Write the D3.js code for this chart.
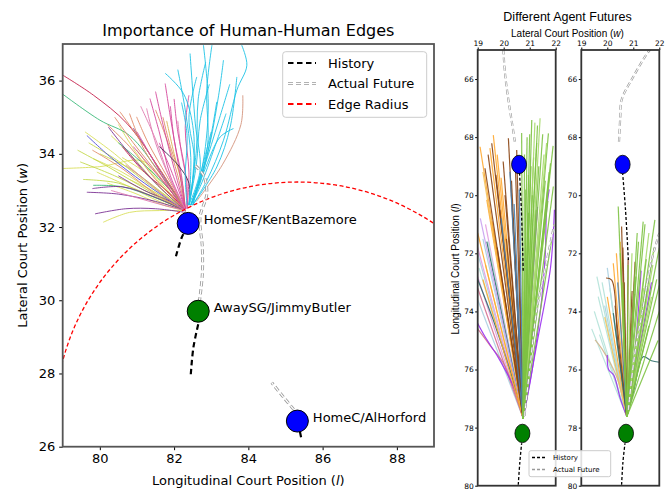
<!DOCTYPE html>
<html>
<head>
<meta charset="utf-8">
<script src="https://d3js.org/d3.v7.min.js"></script>
<style>
body { margin: 0; background: #fff; }
svg { display: block; font-family: "DejaVu Sans", sans-serif; }
</style>
</head>
<body>
<svg width="665" height="491"></svg>
<script>
// ---------- data ----------
const leftXTicks = [80, 82, 84, 86, 88];
const leftYTicks = [26, 28, 30, 32, 34, 36];
const rightXTicks = [19, 20, 21, 22];
const rightYTicks = [66, 68, 70, 72, 74, 76, 78, 80];

const agents = [
  {name: "HomeSF/KentBazemore", team: "home", x: 82.38, y: 32.1},
  {name: "AwaySG/JimmyButler", team: "away", x: 82.65, y: 29.7},
  {name: "HomeC/AlHorford", team: "home", x: 85.32, y: 26.7}
];
const edgeRadius = 6.53; // around AlHorford

const leftHistory = [
  [[82.05, 31.2], [82.2, 31.7], [82.35, 32.0]],
  [[82.45, 27.98], [82.52, 28.71], [82.66, 29.39]],
  [[85.42, 26.26], [85.36, 26.55]]
];
const leftFuture = [
  [[82.68, 29.95], [82.76, 30.7], [82.76, 31.45], [82.7, 32.27], [82.88, 32.9], [82.8, 33.4], [82.55, 33.7]],
  [[85.22, 27.02], [84.95, 27.35], [84.63, 27.75]]
];

// predicted futures of KentBazemore (mode -> colour)
const leftSamples = [
  {m: "yellow", p: [[79.0, 33.6], [80.0, 33.65], [81.16, 33.8], [81.8, 33.1], [82.3, 32.5]]},
  {m: "yellow", p: [[79.6, 34.6], [80.4, 34.0], [81.2, 33.3], [82.3, 32.45]]},
  {m: "yellow", p: [[79.82, 33.87], [80.6, 33.5], [81.4, 33.0], [82.3, 32.45]]},
  {m: "lime", p: [[79.47, 33.78], [80.4, 33.4], [81.4, 32.9], [82.3, 32.45]]},
  {m: "yellow", p: [[79.92, 33.5], [80.8, 33.1], [81.6, 32.7], [82.3, 32.45]]},
  {m: "yellow", p: [[80.09, 32.13], [80.8, 32.4], [81.6, 32.45], [82.3, 32.45]]},
  {m: "lime", p: [[79.7, 34.3], [80.5, 33.8], [81.4, 33.1], [82.3, 32.45]]},
  {m: "yellow", p: [[80.2, 33.2], [81.0, 32.9], [81.7, 32.6], [82.3, 32.45]]},
  {m: "yellow", p: [[80.3, 34.5], [80.9, 33.9], [81.6, 33.1], [82.3, 32.45]]},
  {m: "lime", p: [[79.55, 33.3], [80.5, 33.2], [81.5, 32.8], [82.3, 32.45]]},
  {m: "yellow", p: [[81.0, 34.1], [81.5, 33.4], [82.0, 32.8], [82.3, 32.45]]},
  {m: "yellow", p: [[80.6, 33.9], [81.2, 33.5], [81.8, 32.9], [82.3, 32.45]]},
  {m: "lime", p: [[80.0, 34.0], [80.8, 33.6], [81.6, 33.0], [82.3, 32.45]]},
  {m: "yellow", p: [[80.5, 34.8], [81.0, 34.0], [81.7, 33.1], [82.3, 32.45]]},
  {m: "lime", p: [[79.4, 34.1], [80.3, 33.6], [81.3, 33.0], [82.3, 32.45]]},
  {m: "yellow", p: [[80.8, 33.3], [81.4, 33.0], [81.9, 32.7], [82.3, 32.45]]},
  {m: "crimson", p: [[79.0, 36.15], [79.83, 35.6], [80.73, 34.83], [81.6, 33.6], [82.3, 32.5]]},
  {m: "crimson", p: [[80.6, 34.2], [81.2, 33.5], [81.9, 32.9], [82.3, 32.45]]},
  {m: "green", p: [[79.0, 35.63], [80.0, 34.92], [80.8, 34.5], [81.6, 33.5], [82.3, 32.5]]},
  {m: "green", p: [[79.82, 33.14], [80.6, 33.1], [81.5, 32.8], [82.3, 32.45]]},
  {m: "green", p: [[80.5, 34.3], [81.2, 33.7], [81.9, 33.0], [82.3, 32.5]]},
  {m: "purple", p: [[79.65, 32.95], [80.5, 32.9], [81.5, 32.7], [82.3, 32.45]]},
  {m: "purple", p: [[79.87, 32.36], [80.7, 32.5], [81.5, 32.5], [82.3, 32.4]]},
  {m: "purple", p: [[80.23, 34.73], [80.8, 34.0], [81.5, 33.2], [82.3, 32.45]]},
  {m: "purple", p: [[80.5, 33.4], [81.2, 33.0], [81.9, 32.7], [82.3, 32.45]]},
  {m: "purple", p: [[79.8, 33.05], [80.6, 33.1], [81.4, 32.85], [82.3, 32.45]]},
  {m: "purple", p: [[80.9, 34.7], [81.4, 33.9], [81.9, 33.1], [82.3, 32.5]]},
  {m: "blue", p: [[79.65, 34.5], [80.3, 33.9], [81.2, 33.2], [82.3, 32.45]]},
  {m: "salmon", p: [[80.54, 35.15], [81.0, 34.5], [81.6, 33.6], [82.3, 32.5]]},
  {m: "salmon", p: [[80.99, 35.01], [81.3, 34.3], [81.8, 33.4], [82.3, 32.5]]},
  {m: "salmon", p: [[80.2, 34.8], [80.8, 34.2], [81.5, 33.3], [82.3, 32.45]]},
  {m: "salmon", p: [[81.5, 35.2], [81.8, 34.4], [82.1, 33.4], [82.3, 32.5]]},
  {m: "salmon", p: [[80.8, 35.1], [81.2, 34.1], [81.8, 33.2], [82.3, 32.5]]},
  {m: "salmon", p: [[79.8, 34.1], [80.6, 33.6], [81.5, 32.9], [82.3, 32.45]]},
  {m: "salmon", p: [[81.7, 35.0], [81.9, 34.2], [82.2, 33.3], [82.3, 32.5]]},
  {m: "salmon", p: [[80.4, 35.0], [80.9, 34.3], [81.6, 33.4], [82.3, 32.45]]},
  {m: "gold", p: [[81.8, 34.9], [82.0, 34.0], [82.2, 33.2], [82.3, 32.5]]},
  {m: "magenta", p: [[81.76, 35.92], [81.9, 35.0], [82.1, 33.8], [82.3, 32.5]]},
  {m: "magenta", p: [[81.35, 35.51], [81.6, 34.6], [81.9, 33.4], [82.3, 32.5]]},
  {m: "pink", p: [[81.26, 35.24], [81.5, 34.3], [81.9, 33.3], [82.3, 32.5]]},
  {m: "magenta", p: [[81.9, 35.3], [82.0, 34.4], [82.2, 33.4], [82.3, 32.5]]},
  {m: "pink", p: [[82.1, 34.9], [82.2, 34.0], [82.35, 33.2], [82.35, 32.5]]},
  {m: "magenta", p: [[81.0, 34.6], [81.4, 33.9], [81.9, 33.0], [82.3, 32.45]]},
  {m: "pink", p: [[80.7, 33.7], [81.2, 33.3], [81.8, 32.8], [82.3, 32.45]]},
  {m: "magenta", p: [[81.6, 34.3], [81.9, 33.6], [82.3, 32.5]]},
  {m: "magenta", p: [[82.4, 35.6], [82.3, 34.7], [82.4, 33.5], [82.35, 32.5]]},
  {m: "pink", p: [[80.3, 33.0], [81.0, 32.8], [81.7, 32.6], [82.3, 32.45]]},
  {m: "magenta", p: [[81.5, 35.7], [81.7, 34.8], [82.0, 33.6], [82.3, 32.5]]},
  {m: "pink", p: [[81.1, 35.3], [81.5, 34.4], [81.9, 33.3], [82.3, 32.5]]},
  {m: "magenta", p: [[82.0, 35.5], [82.1, 34.6], [82.3, 33.5], [82.35, 32.5]]},
  {m: "magenta", p: [[80.9, 34.2], [81.4, 33.6], [81.9, 33.0], [82.3, 32.45]]},
  {m: "dark", p: [[81.6, 34.2], [82.1, 33.7], [82.4, 33.2], [82.4, 32.6]]},
  {m: "tan", p: [[83.85, 35.6], [83.8, 34.8], [83.3, 33.7], [82.6, 32.7]]},
  {m: "cyan", p: [[82.43, 36.74], [82.57, 34.84], [82.7, 33.55], [82.4, 32.6]]},
  {m: "cyan", p: [[82.79, 36.97], [82.92, 35.28], [82.75, 33.6], [82.45, 32.6]]},
  {m: "cyan", p: [[83.02, 36.97], [82.88, 35.74], [82.9, 34.2], [82.5, 32.6]]},
  {m: "cyan", p: [[83.82, 36.97], [83.96, 36.42], [83.69, 35.74], [83.33, 34.37], [82.88, 33.27], [82.5, 32.6]]},
  {m: "cyan", p: [[81.76, 36.2], [82.25, 35.65], [82.52, 34.64], [82.5, 33.3], [82.4, 32.6]]},
  {m: "cyan", p: [[83.69, 36.1], [83.51, 34.73], [83.15, 33.64], [82.5, 32.6]]},
  {m: "cyan", p: [[83.15, 35.42], [82.97, 34.37], [82.7, 33.2], [82.45, 32.6]]},
  {m: "cyan", p: [[83.6, 34.69], [83.24, 34.46], [82.8, 33.5], [82.45, 32.6]]},
  {m: "cyan", p: [[82.61, 36.1], [82.4, 35.0], [82.55, 33.8], [82.4, 32.6]]},
  {m: "cyan", p: [[83.33, 36.56], [83.2, 35.6], [82.9, 34.0], [82.45, 32.6]]},
  {m: "cyan", p: [[82.2, 35.4], [82.35, 34.5], [82.3, 33.4], [82.35, 32.6]]},
  {m: "cyan", p: [[83.4, 35.1], [83.1, 34.2], [82.7, 33.1], [82.45, 32.6]]},
  {m: "cyan", p: [[82.95, 35.9], [82.7, 34.9], [82.6, 33.7], [82.4, 32.6]]},
  {m: "cyan", p: [[83.0, 34.6], [82.8, 33.8], [82.5, 32.6]]},
  {m: "cyan", p: [[82.1, 36.3], [82.3, 35.2], [82.45, 33.9], [82.4, 32.6]]},
  {m: "cyan", p: [[83.5, 35.9], [83.2, 34.9], [82.8, 33.6], [82.45, 32.6]]},
  {m: "cyan", p: [[82.85, 36.5], [82.65, 35.5], [82.6, 34.1], [82.4, 32.6]]}
];

// right panels: predicted futures of JimmyButler (all start at the fan origin)
const fanOrigins = [[20.75, 77.68], [20.75, 77.62]];
const fanA = [
  {m: "lightblue", p: [[19.0, 72.0]]}, {m: "lightblue", p: [[19.2, 71.5]]},
  {m: "plum", p: [[19.0, 71.8]]}, {m: "plum", p: [[19.3, 71.0]]}, {m: "plum", p: [[19.0, 72.8]]},
  {m: "turquoise", p: [[19.05, 72.5]]}, {m: "turquoise", p: [[19.4, 71.6]]},
  {m: "lightblue", p: [[19.0, 73.6]]}, {m: "gold", p: [[19.3, 72.4]]},
  {m: "pink", p: [[19.0, 74.6], [19.5, 75.2], [20.0, 75.8], [20.37, 76.6]]},
  {m: "pink", p: [[19.0, 73.2]]},
  {m: "purple", p: [[18.96, 74.35], [19.3, 74.9], [19.8, 75.6], [20.43, 76.7]]},
  {m: "teal", p: [[19.0, 72.9], [19.6, 74.3], [20.3, 76.2]]},
  {m: "teal", p: [[19.6, 71.2]]}, {m: "teal", p: [[19.35, 71.6]]}, {m: "violet", p: [[19.1, 70.8]]},
  {m: "orange", p: [[19.6, 67.93]]}, {m: "orange", p: [[19.47, 68.38]]},
  {m: "orange", p: [[19.09, 68.33]]}, {m: "orange", p: [[19.35, 70.16]]},
  {m: "orange", p: [[19.0, 71.3]]}, {m: "orange", p: [[19.75, 68.6]]},
  {m: "orange", p: [[19.9, 69.4]]}, {m: "gold", p: [[19.2, 69.2]]},
  {m: "orange", p: [[19.55, 70.9]]}, {m: "orange", p: [[19.2, 72.9]]},
  {m: "brown", p: [[19.54, 68.21]]}, {m: "brown", p: [[20.18, 68.04]]},
  {m: "brown", p: [[20.5, 68.44]]}, {m: "brown", p: [[19.28, 69.07]]},
  {m: "brown", p: [[19.98, 68.84]]}, {m: "brown", p: [[19.7, 69.3]]},
  {m: "brown", p: [[20.3, 69.5]]}, {m: "brown", p: [[19.4, 68.6]]},
  {m: "brown", p: [[20.05, 70.0]]}, {m: "brown", p: [[19.85, 70.5]]},
  {m: "brown", p: [[20.35, 70.8]]}, {m: "brown", p: [[20.1, 71.5]]},
  {m: "brown", p: [[20.45, 69.0]]}, {m: "brown", p: [[19.75, 71.8]]},
  {m: "steel", p: [[20.24, 69.19]]}, {m: "steel", p: [[20.4, 70.3]]},
  {m: "steel", p: [[19.9, 70.8]]}, {m: "steel", p: [[20.6, 69.8]]},
  {m: "purple", p: [[21.75, 69.8], [21.65, 70.5], [21.6, 72.0], [21.46, 73.6], [21.1, 76.0]]},
  {m: "purple", p: [[21.95, 70.5], [21.8, 72.5], [21.3, 75.0]]},
  {m: "purple", p: [[21.3, 70.4]]},
  {m: "green", p: [[20.69, 67.86]]}, {m: "green", p: [[21.08, 67.41]]},
  {m: "lightgreen", p: [[21.4, 67.35]]}, {m: "green", p: [[21.72, 67.87]]},
  {m: "green", p: [[21.91, 69.7]]}, {m: "green", p: [[21.27, 68.2]]},
  {m: "lightgreen", p: [[21.55, 68.6]]}, {m: "green", p: [[20.9, 68.0]]},
  {m: "green", p: [[21.15, 68.7]]}, {m: "green", p: [[21.8, 68.9]]},
  {m: "lightgreen", p: [[20.95, 69.3]]}, {m: "green", p: [[21.35, 69.0]]},
  {m: "green", p: [[21.6, 69.5]]}, {m: "green", p: [[21.0, 67.9]]},
  {m: "lightgreen", p: [[21.2, 67.5]]}, {m: "green", p: [[21.5, 67.9]]},
  {m: "green", p: [[20.8, 68.6]]}, {m: "green", p: [[21.7, 70.2]]},
  {m: "lightgreen", p: [[21.45, 70.6]]}, {m: "green", p: [[21.85, 71.5]]},
  {m: "green", p: [[21.1, 70.0]]}, {m: "green", p: [[20.85, 69.8]]},
  {m: "green", p: [[21.3, 67.6]]}, {m: "lightgreen", p: [[21.65, 68.2]]},
  {m: "green", p: [[21.05, 69.0]]}, {m: "green", p: [[21.25, 70.5]]},
  {m: "lightgreen", p: [[21.5, 71.5]]}, {m: "green", p: [[20.95, 70.6]]},
  {m: "green", p: [[21.75, 69.2]]}, {m: "green", p: [[21.9, 68.3]]}
];
const fanB = [
  {m: "turquoise", p: [[19.65, 73.49]]}, {m: "turquoise", p: [[19.5, 74.0]]},
  {m: "turquoise", p: [[19.8, 73.0]]}, {m: "turquoise", p: [[19.4, 74.6]]},
  {m: "lightblue", p: [[20.0, 72.5]]}, {m: "turquoise", p: [[19.7, 74.8]]},
  {m: "lightblue", p: [[19.9, 73.8]]}, {m: "turquoise", p: [[19.6, 72.8]]},
  {m: "turquoise", p: [[20.1, 73.2]]},
  {m: "tan", p: [[19.53, 74.98], [19.8, 75.3], [20.36, 76.25]]},
  {m: "purple", p: [[20.0, 75.5], [20.05, 76.0], [20.25, 76.2], [20.5, 77.0]]},
  {m: "orange", p: [[20.23, 72.34]]}, {m: "orange", p: [[20.0, 73.5]]},
  {m: "orange", p: [[20.5, 71.6]]}, {m: "gold", p: [[19.9, 74.2]]},
  {m: "orange", p: [[20.35, 72.0]]},
  {m: "brown", p: [[19.95, 72.85], [20.17, 72.92], [20.4, 75.0]]},
  {m: "brown", p: [[21.07, 72.29]]}, {m: "brown", p: [[20.55, 71.08]]},
  {m: "brown", p: [[20.8, 72.2]]}, {m: "brown", p: [[20.3, 73.8]]},
  {m: "brown", p: [[20.65, 73.0]]}, {m: "brown", p: [[20.6, 71.8]]},
  {m: "brown", p: [[20.95, 73.3]]},
  {m: "teal", p: [[22.0, 75.75], [21.7, 75.7], [21.38, 75.56], [21.0, 76.8]]},
  {m: "teal", p: [[20.23, 74.06]]},
  {m: "red", p: [[21.05, 73.4]]}, {m: "steel", p: [[20.4, 73.0]]},
  {m: "purple", p: [[21.3, 72.6], [21.1, 75.0]]}, {m: "purple", p: [[21.7, 73.0]]},
  {m: "green", p: [[20.42, 70.39]]}, {m: "green", p: [[21.38, 70.91]]},
  {m: "green", p: [[21.83, 70.85]]}, {m: "lightgreen", p: [[21.6, 71.3]]},
  {m: "green", p: [[22.0, 71.8]]}, {m: "green", p: [[21.2, 71.6]]},
  {m: "lightgreen", p: [[20.95, 72.0]]}, {m: "green", p: [[21.5, 72.2]]},
  {m: "green", p: [[21.9, 72.9]]}, {m: "lightgreen", p: [[21.7, 73.5]]},
  {m: "green", p: [[22.0, 74.0]]}, {m: "green", p: [[21.1, 72.8]]},
  {m: "green", p: [[20.8, 72.4]]}, {m: "lightgreen", p: [[21.4, 73.2]]},
  {m: "green", p: [[21.95, 75.0]]}, {m: "green", p: [[21.6, 74.5]]},
  {m: "green", p: [[20.6, 73.0]]}, {m: "lightgreen", p: [[21.3, 74.0]]},
  {m: "green", p: [[21.8, 71.8]]}, {m: "green", p: [[20.5, 72.0]]},
  {m: "green", p: [[21.45, 71.0]]}, {m: "green", p: [[21.15, 71.3]]},
  {m: "lightgreen", p: [[21.75, 72.4]]}, {m: "green", p: [[21.55, 73.2]]},
  {m: "green", p: [[22.0, 73.1]]}
];
const rightBlue = [20.59, 68.94];
const rightGreen = [20.72, 78.2];
const rightHistory = [
  [[[20.75, 72.6], [20.68, 70.5], [20.6, 69.1]], [[20.56, 79.97], [20.62, 79.2], [20.69, 78.54]]],
  [[[20.81, 72.23], [20.7, 70.5], [20.59, 69.25]], [[20.55, 79.97], [20.6, 79.2], [20.68, 78.54]]]
];
const rightFuture = [
  [[[20.43, 68.16], [20.3, 67.4], [20.18, 66.72], [20.05, 65.8], [19.98, 64.9]],
   [[20.8, 77.6], [21.0, 76.0], [21.27, 73.95], [21.6, 72.5], [21.95, 71.0]]],
  [[[20.45, 68.16], [20.5, 67.3], [20.55, 66.72], [21.0, 65.92], [21.58, 65.06], [21.7, 64.95]],
   [[20.81, 77.39], [21.05, 75.5], [21.35, 74.0], [21.71, 72.23], [22.0, 71.3]]]
];

// ---------- drawing ----------
const svg = d3.select("svg");
const line = d3.line().curve(d3.curveCatmullRom.alpha(0.5));

const leftColor = d3.scaleOrdinal()
  .domain(["yellow", "lime", "crimson", "green", "purple", "blue", "salmon", "magenta", "pink", "dark", "tan", "cyan", "gold"])
  .range(["#d9df5c", "#c3d84a", "#c41e4a", "#3cba7a", "#7b3294", "#4b4bd8", "#e08a66", "#d5479b", "#e07ab0", "#3a3050", "#d4947c", "#1fc3e6", "#d8b050"]);
const fanColor = d3.scaleOrdinal()
  .domain(["lightblue", "plum", "turquoise", "gold", "pink", "purple", "teal", "violet", "orange", "brown", "steel", "green", "lightgreen", "tan", "red"])
  .range(["#a9cfe0", "#e29be0", "#b2e2d8", "#f4c15a", "#d4708f", "#9b30f0", "#2e6b6b", "#c8a0f0", "#ffa930", "#8b4513", "#4682b4", "#7dc242", "#a6d96a", "#d2b48c", "#e0302a"]);
const teamColor = d3.scaleOrdinal().domain(["home", "away"]).range(["#0000ff", "#008000"]);

function futureLine(g, d, w) {
  g.append("path").attr("d", d).attr("fill", "none")
    .attr("stroke", "#999").attr("stroke-width", w).attr("stroke-dasharray", "5,3");
  g.append("path").attr("d", d).attr("fill", "none")
    .attr("stroke", "#fff").attr("stroke-width", w * 0.45).attr("stroke-dasharray", "5,3");
}

// ----- left plot -----
const L = {x0: 62.7, x1: 434, y0: 44, y1: 446.7};
const xL = d3.scaleLinear().domain([79, 89]).range([L.x0, L.x1]);
const yL = d3.scaleLinear().domain([26, 37]).range([L.y1, L.y0]);

svg.append("clipPath").attr("id", "clipL").append("rect")
  .attr("x", L.x0).attr("y", L.y0).attr("width", L.x1 - L.x0).attr("height", L.y1 - L.y0);
const gL = svg.append("g").attr("clip-path", "url(#clipL)");

gL.selectAll(".sample").data(leftSamples).enter().append("path")
  .attr("d", d => line(d.p.map(q => [xL(q[0]), yL(q[1])])))
  .attr("fill", "none").attr("stroke", d => leftColor(d.m))
  .attr("stroke-width", 1).attr("stroke-opacity", 0.9);

const hub = agents[2];
gL.append("ellipse")
  .attr("cx", xL(hub.x)).attr("cy", yL(hub.y))
  .attr("rx", xL(hub.x + edgeRadius) - xL(hub.x))
  .attr("ry", yL(hub.y) - yL(hub.y + edgeRadius))
  .attr("fill", "none").attr("stroke", "#ff0000").attr("stroke-width", 1.3)
  .attr("stroke-dasharray", "4,2.5");

leftFuture.forEach(f => futureLine(gL, line(f.map(q => [xL(q[0]), yL(q[1])])), 3));
leftHistory.forEach(h => gL.append("path")
  .attr("d", line(h.map(q => [xL(q[0]), yL(q[1])])))
  .attr("fill", "none").attr("stroke", "#000").attr("stroke-width", 2.2).attr("stroke-dasharray", "5.5,3.5"));

gL.selectAll(".agent").data(agents).enter().append("circle")
  .attr("cx", d => xL(d.x)).attr("cy", d => yL(d.y)).attr("r", 11)
  .attr("fill", d => teamColor(d.team)).attr("stroke", "#000").attr("stroke-width", 1);

svg.selectAll(".agentLabel").data(agents).enter().append("text")
  .attr("x", d => xL(d.x) + 15.5).attr("y", d => yL(d.y) - 4).attr("dy", "0.35em")
  .attr("font-size", "13px").text(d => d.name);

// axes
const axL = svg.append("g").attr("transform", `translate(0,${L.y1})`)
  .call(d3.axisBottom(xL).tickValues(leftXTicks).tickSize(3.5).tickPadding(4));
const ayL = svg.append("g").attr("transform", `translate(${L.x0},0)`)
  .call(d3.axisLeft(yL).tickValues(leftYTicks).tickSize(3.5).tickPadding(4));
[axL, ayL].forEach(a => {
  a.select(".domain").remove();
  a.selectAll("text").attr("font-size", "13px").attr("font-family", "DejaVu Sans").attr("fill", "#000");
  a.selectAll("line").attr("stroke", "#000");
});
svg.append("rect").attr("x", L.x0).attr("y", L.y0)
  .attr("width", L.x1 - L.x0).attr("height", L.y1 - L.y0)
  .attr("fill", "none").attr("stroke", "#555").attr("stroke-width", 1.8);

svg.append("text").attr("x", (L.x0 + L.x1) / 2).attr("y", 36)
  .attr("text-anchor", "middle").attr("font-size", "16px")
  .text("Importance of Human-Human Edges");
const xLab = svg.append("text").attr("x", (L.x0 + L.x1) / 2).attr("y", 485)
  .attr("text-anchor", "middle").attr("font-size", "13px");
xLab.append("tspan").text("Longitudinal Court Position (");
xLab.append("tspan").attr("font-style", "italic").text("l");
xLab.append("tspan").text(")");
const yLab = svg.append("text").attr("transform", `translate(22.5,${(L.y0 + L.y1) / 2}) rotate(-90)`)
  .attr("text-anchor", "middle").attr("dy", "0.35em").attr("font-size", "13px");
yLab.append("tspan").text("Lateral Court Position (");
yLab.append("tspan").attr("font-style", "italic").text("w");
yLab.append("tspan").text(")");

// legend
const legL = svg.append("g");
legL.append("rect").attr("x", 282.7).attr("y", 51.7).attr("width", 144).attr("height", 65.6)
  .attr("rx", 3).attr("fill", "#fff").attr("fill-opacity", 0.85).attr("stroke", "#ccc");
const legItems = ["History", "Actual Future", "Edge Radius"];
legItems.forEach((t, i) => {
  const yy = 63 + i * 20.5;
  const d = `M288,${yy}L316,${yy}`;
  if (i === 1) futureLine(legL, d, 3);
  else legL.append("path").attr("d", d).attr("stroke", i === 0 ? "#000" : "#ff0000")
    .attr("stroke-width", 2).attr("stroke-dasharray", "5.5,3.5");
  legL.append("text").attr("x", 328).attr("y", yy).attr("dy", "0.35em")
    .attr("font-size", "13px").text(t);
});

// ----- right panels -----
const R = {y0: 50, y1: 485.7, panels: [[477.7, 555.7], [581.3, 659.3]]};
const yR = d3.scaleLinear().domain([65, 80]).range([R.y0, R.y1]);
const fans = [fanA, fanB];

R.panels.forEach((px, k) => {
  const xR = d3.scaleLinear().domain([19, 22]).range(px);
  const P = q => [xR(q[0]), yR(q[1])];
  svg.append("clipPath").attr("id", "clipR" + k).append("rect")
    .attr("x", px[0]).attr("y", R.y0).attr("width", px[1] - px[0]).attr("height", R.y1 - R.y0);
  const g = svg.append("g").attr("clip-path", `url(#clipR${k})`);

  g.selectAll(".fan").data(fans[k]).enter().append("path")
    .attr("d", d => line(d.p.concat([fanOrigins[k]]).map(P)))
    .attr("fill", "none").attr("stroke", d => fanColor(d.m))
    .attr("stroke-width", 1.2).attr("stroke-opacity", 0.9);

  rightFuture[k].forEach(f => futureLine(g, line(f.map(P)), 2.2));
  rightHistory[k].forEach(h => g.append("path").attr("d", line(h.map(P)))
    .attr("fill", "none").attr("stroke", "#000").attr("stroke-width", 1.3).attr("stroke-dasharray", "3,2"));

  [[rightBlue, "home"], [rightGreen, "away"]].forEach(([c, t]) => g.append("ellipse")
    .attr("cx", xR(c[0])).attr("cy", yR(c[1])).attr("rx", 7.5).attr("ry", 9.2)
    .attr("fill", teamColor(t)).attr("stroke", "#000").attr("stroke-width", 0.8));

  const ax = svg.append("g").attr("transform", `translate(0,${R.y0})`)
    .call(d3.axisTop(xR).tickValues(rightXTicks).tickFormat(d3.format("d")).tickSize(2.5).tickPadding(2));
  const ay = svg.append("g").attr("transform", `translate(${px[0]},0)`)
    .call(d3.axisLeft(yR).tickValues(rightYTicks).tickSize(2.5).tickPadding(1.5));
  [ax, ay].forEach(a => {
    a.select(".domain").remove();
    a.selectAll("text").attr("font-size", "7.5px").attr("font-family", "DejaVu Sans").attr("fill", "#000");
    a.selectAll("line").attr("stroke", "#000");
  });
  svg.append("rect").attr("x", px[0]).attr("y", R.y0)
    .attr("width", px[1] - px[0]).attr("height", R.y1 - R.y0)
    .attr("fill", "none").attr("stroke", "#333").attr("stroke-width", 1.8);
});

svg.append("text").attr("x", 567.5).attr("y", 21).attr("text-anchor", "middle")
  .attr("font-family", "Liberation Sans").attr("font-size", "12.5px").text("Different Agent Futures");
const xR2 = svg.append("text").attr("x", 567.5).attr("y", 36.5).attr("text-anchor", "middle")
  .attr("font-family", "Liberation Sans").attr("font-size", "10px");
xR2.append("tspan").text("Lateral Court Position (");
xR2.append("tspan").attr("font-style", "italic").text("w");
xR2.append("tspan").text(")");
const yR2 = svg.append("text").attr("transform", "translate(455,269) rotate(-90)")
  .attr("text-anchor", "middle").attr("dy", "0.35em")
  .attr("font-family", "Liberation Sans").attr("font-size", "10px");
yR2.append("tspan").text("Longitudinal Court Position (");
yR2.append("tspan").attr("font-style", "italic").text("l");
yR2.append("tspan").text(")");

const legR = svg.append("g");
legR.append("rect").attr("x", 529).attr("y", 450.7).attr("width", 81.7).attr("height", 26)
  .attr("rx", 2).attr("fill", "#fff").attr("fill-opacity", 0.85).attr("stroke", "#ccc");
["History", "Actual Future"].forEach((t, i) => {
  const yy = 457.5 + i * 12;
  legR.append("path").attr("d", `M532,${yy}L546,${yy}`)
    .attr("stroke", i === 0 ? "#000" : "#999").attr("stroke-width", 1.3).attr("stroke-dasharray", "3,2");
  legR.append("text").attr("x", 553).attr("y", yy).attr("dy", "0.35em")
    .attr("font-size", "7px").text(t);
});
</script>
</body>
</html>
